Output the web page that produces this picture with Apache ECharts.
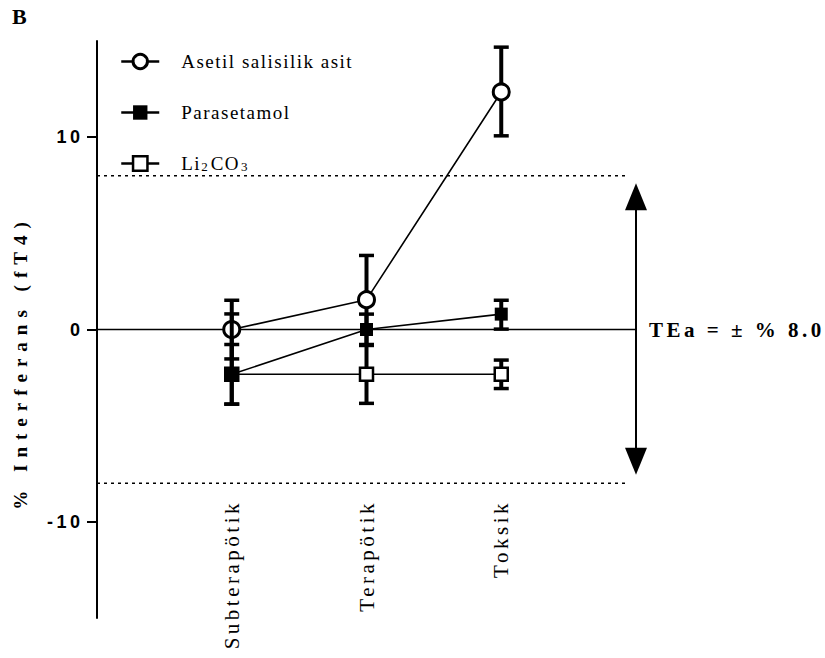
<!DOCTYPE html>
<html><head><meta charset="utf-8">
<script src="https://cdn.jsdelivr.net/npm/echarts@6/dist/echarts.min.js"></script>
<style>
html,body{margin:0;padding:0;background:#fff;}
#chart{width:825px;height:658px;}
text[style*="Tinos"], text[font-family*="Tinos"]{letter-spacing:1.5px;}
text[style*="Times New Roman"], text[font-family*="Times New Roman"]{letter-spacing:3.5px;}
text[style*="Nimbus"], text[font-family*="Nimbus"]{letter-spacing:7px;}
text[style*="Arial"], text[font-family*="Arial"]{letter-spacing:3.5px;}
</style></head>
<body><div id="chart"></div>
<script>
// ---- data ----
const categories = ['Subterapötik', 'Terapötik', 'Toksik'];
const catPos = [1, 2, 3];
const seriesNames = ['Asetil salisilik asit', 'Parasetamol', 'Li2CO3'];
const asaMean = [0, 1.55, 12.35];
const asaLow  = [-1.53, -0.78, 10.07];
const asaHigh = [1.52, 3.85, 14.68];
const parMean = [-2.33, 0, 0.8];
const parLow  = [-3.88, -0.8, 0.02];
const parHigh = [-0.78, 0.8, 1.52];
const liMean  = [-2.33, -2.33, -2.33];
const liLow   = [-3.88, -3.84, -3.07];
const liHigh  = [0.81, -0.83, -1.59];
const yTicks = [-10, 0, 10];
const teaLimit = 8;
const teaLabel = 'TEa = ± % 8.0';
const arrowEnds = [7.6, -7.55];
const xMax = 4;
const dottedEnd = 3.94;

// ---- fonts ----
const SERIF_LEG = "'Liberation Serif', Tinos, serif";
const SERIF_PLAIN = "'Liberation Serif', serif";
const SERIF_SP = "'Liberation Serif', 'Times New Roman', serif";
const SERIF_WIDE = "'Liberation Serif', Nimbus, serif";
const SANS = "Arial, 'Liberation Sans', sans-serif";

const pts = (m) => catPos.map((x, i) => [x, m[i]]);
const errData = (lo, hi) => catPos.map((x, i) => [x, lo[i], hi[i]]);

function errRender(params, api) {
  const x = api.value(0);
  const lo = api.coord([x, api.value(1)]);
  const hi = api.coord([x, api.value(2)]);
  const w = 7.5;
  const cap = {stroke: '#000', lineWidth: 3.5};
  return {type: 'group', children: [
    {type: 'line', shape: {x1: lo[0], y1: lo[1], x2: hi[0], y2: hi[1]}, style: {stroke: '#000', lineWidth: 4}},
    {type: 'line', shape: {x1: lo[0] - w, y1: lo[1], x2: lo[0] + w, y2: lo[1]}, style: cap},
    {type: 'line', shape: {x1: hi[0] - w, y1: hi[1], x2: hi[0] + w, y2: hi[1]}, style: cap}
  ]};
}

function arrowRender(params, api) {
  const x = api.value(0);
  const top = api.coord([x, api.value(1)]);
  const bot = api.coord([x, api.value(2)]);
  const zero = api.coord([x, 0]);
  const hw = 11, hh = 27;
  return {type: 'group', children: [
    {type: 'line', shape: {x1: top[0], y1: top[1] + hh - 2, x2: bot[0], y2: bot[1] - hh + 2}, style: {stroke: '#000', lineWidth: 2}},
    {type: 'polygon', shape: {points: [[top[0], top[1]], [top[0] - hw, top[1] + hh], [top[0] + hw, top[1] + hh]]}, style: {fill: '#000'}},
    {type: 'polygon', shape: {points: [[bot[0], bot[1]], [bot[0] - hw, bot[1] - hh], [bot[0] + hw, bot[1] - hh]]}, style: {fill: '#000'}},
    {type: 'text', x: zero[0] + 13, y: zero[1], style: {text: teaLabel, fontFamily: SERIF_SP, fontWeight: 'bold', fontSize: 21, fill: '#000', verticalAlign: 'middle', align: 'left'}}
  ]};
}

function lineSeries(name, mean, symbol, size, fill, bw, z) {
  return {
    type: 'line', name: name, data: pts(mean), z: z,
    symbol: symbol, symbolSize: size,
    lineStyle: {color: '#000', width: 1.6},
    itemStyle: {color: fill, borderColor: '#000', borderWidth: bw},
    emphasis: {disabled: true}
  };
}

const legendStyles = [
  {itemStyle: {color: '#fff', borderColor: '#000', borderWidth: 3}},
  {itemStyle: {color: '#000', borderColor: '#000', borderWidth: 0}},
  {itemStyle: {color: '#fff', borderColor: '#000', borderWidth: 2.5}}
];

const chart = echarts.init(document.getElementById('chart'), null, {renderer: 'svg'});
chart.setOption({
  animation: false,
  backgroundColor: '#fff',
  grid: {left: 97, right: 189, top: 41, bottom: 40},
  graphic: [{type: 'text', left: 12, top: 5, style: {text: 'B', fontFamily: SERIF_PLAIN, fontWeight: 'bold', fontSize: 22, fill: '#000'}}],
  legend: {
    orient: 'vertical', left: 120, top: 52, padding: 0, itemWidth: 38, itemHeight: 18, itemGap: 32,
    selectedMode: false,
    lineStyle: {width: 2.5, color: '#000'},
    data: seriesNames.map((n, i) => Object.assign({name: n}, legendStyles[i])),
    formatter: (n) => n === 'Li2CO3' ? '{n|Li}{sub|2}{m|CO}{sub3|3}' : '{n|' + n + '}',
    textStyle: {fontFamily: SERIF_LEG, fontSize: 19, color: '#000',
      rich: {
        n: {fontFamily: SERIF_LEG, fontSize: 19, color: '#000', lineHeight: 18, padding: [0, 0, 0, 17]},
        m: {fontFamily: SERIF_LEG, fontSize: 19, color: '#000', lineHeight: 18, padding: [0, 0, 0, 3]},
        sub: {fontFamily: SERIF_PLAIN, fontSize: 13, color: '#000', lineHeight: 5, verticalAlign: 'bottom', padding: [0, 0, 0, 3]},
        sub3: {fontFamily: SERIF_PLAIN, fontSize: 13, color: '#000', lineHeight: 5, verticalAlign: 'bottom', padding: [0, 0, 0, 4]}
      }}
  },
  xAxis: {
    type: 'value', min: 0, max: xMax, offset: -118,
    axisLine: {show: false}, axisTick: {show: false}, splitLine: {show: false},
    axisLabel: {customValues: catPos, rotate: 90, margin: 0, formatter: (v) => categories[catPos.indexOf(v)] || '',
      fontFamily: SERIF_SP, fontSize: 21, color: '#000'}
  },
  yAxis: {
    type: 'value', min: -15, max: 15,
    name: '% Interferans (fT4)', nameLocation: 'middle', nameGap: 67,
    nameTextStyle: {fontFamily: SERIF_WIDE, fontWeight: 'bold', fontSize: 19, color: '#000', padding: [0, 66, 0, 0]},
    axisLine: {show: true, lineStyle: {color: '#000', width: 2}},
    axisTick: {show: true, customValues: yTicks, length: 10, lineStyle: {color: '#000', width: 2}},
    axisLabel: {customValues: yTicks, margin: 13.5, fontFamily: SANS, fontWeight: 'bold', fontSize: 18, color: '#000'},
    splitLine: {show: false}
  },
  series: [
    {type: 'line', data: [[0, 0], [xMax, 0]], symbol: 'none', lineStyle: {color: '#000', width: 1.6}, z: 1, silent: true},
    {type: 'line', data: [[0, teaLimit], [dottedEnd, teaLimit]], symbol: 'none', lineStyle: {color: '#000', width: 1.5, type: [3, 4]}, z: 1, silent: true},
    {type: 'line', data: [[0, -teaLimit], [dottedEnd, -teaLimit]], symbol: 'none', lineStyle: {color: '#000', width: 1.5, type: [3, 4]}, z: 1, silent: true},
    {type: 'custom', data: [[xMax, arrowEnds[0], arrowEnds[1]]], renderItem: arrowRender, z: 1, silent: true},
    {type: 'custom', data: errData(asaLow, asaHigh), renderItem: errRender, z: 2, silent: true},
    lineSeries(seriesNames[0], asaMean, 'circle', 16, '#fff', 3, 3),
    {type: 'custom', data: errData(liLow, liHigh), renderItem: errRender, z: 4, silent: true},
    lineSeries(seriesNames[2], liMean, 'rect', 13, '#fff', 2.5, 5),
    {type: 'custom', data: errData(parLow, parHigh), renderItem: errRender, z: 6, silent: true},
    lineSeries(seriesNames[1], parMean, 'rect', 13, '#000', 0, 7)
  ]
});
</script>
</body></html>
